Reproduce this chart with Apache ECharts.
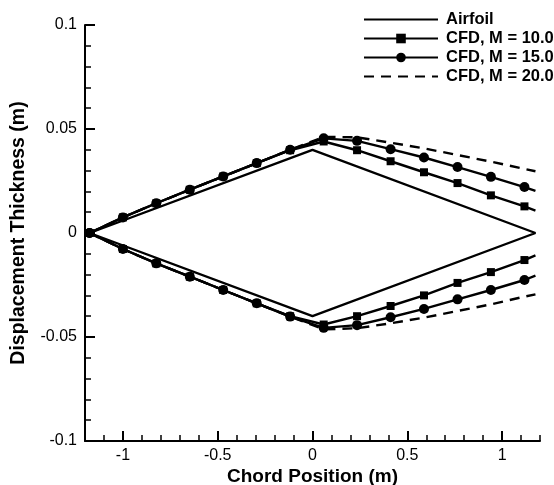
<!DOCTYPE html>
<html><head><meta charset="utf-8">
<script src="https://cdn.jsdelivr.net/npm/echarts@6/dist/echarts.min.js"></script>
<style>html,body{margin:0;padding:0;background:#fff}#c{width:554px;height:485px}</style>
</head><body><div id="c"></div>
<script>
// chord stations (last one is the trailing edge, drawn without marker)
const chordX = [-1.176, -1.0, -0.824, -0.647, -0.471, -0.294, -0.118, 0.059, 0.235, 0.412, 0.588, 0.765, 0.941, 1.118, 1.176];
const airfoilX = [-1.176, 0, 1.176, 0, -1.176];
const airfoilY = [0, 0.04, 0, -0.04, 0];
const m10Upper = [0, 0.0075, 0.0143, 0.0208, 0.0272, 0.0336, 0.0398, 0.0440, 0.0398, 0.0345, 0.0292, 0.0240, 0.0181, 0.0128, 0.0108];
const m10Lower = [0, -0.0077, -0.0146, -0.0210, -0.0274, -0.0338, -0.0400, -0.0440, -0.0400, -0.0351, -0.0300, -0.0240, -0.0188, -0.0130, -0.0108];
const m15Upper = [0, 0.0075, 0.0143, 0.0208, 0.0272, 0.0336, 0.0400, 0.0455, 0.0443, 0.0403, 0.0363, 0.0317, 0.0270, 0.0221, 0.0202];
const m15Lower = [0, -0.0077, -0.0146, -0.0210, -0.0274, -0.0338, -0.0402, -0.0456, -0.0443, -0.0405, -0.0365, -0.0319, -0.0274, -0.0226, -0.0205];
const m20Upper = [0, 0.0075, 0.0143, 0.0208, 0.0272, 0.0336, 0.0400, 0.0462, 0.0460, 0.0434, 0.0407, 0.0375, 0.0343, 0.0308, 0.0297];
const m20Lower = [0, -0.0077, -0.0146, -0.0210, -0.0274, -0.0338, -0.0402, -0.0463, -0.0458, -0.0434, -0.0407, -0.0375, -0.0343, -0.0306, -0.0295];
const seriesNames = ['Airfoil', 'CFD, M = 10.0', 'CFD, M = 15.0', 'CFD, M = 20.0'];
const xMajorTicks = [-1, -0.5, 0, 0.5, 1];
const xMinorTicks = [-1.2, -1.1, -1.0, -0.9, -0.8, -0.7, -0.6, -0.5, -0.4, -0.3, -0.2, -0.1, 0, 0.1, 0.2, 0.3, 0.4, 0.5, 0.6, 0.7, 0.8, 0.9, 1.0, 1.1, 1.2];
const yMajorTicks = [-0.1, -0.05, 0, 0.05, 0.1];
const yMinorTicks = [-0.1, -0.09, -0.08, -0.07, -0.06, -0.05, -0.04, -0.03, -0.02, -0.01, 0, 0.01, 0.02, 0.03, 0.04, 0.05, 0.06, 0.07, 0.08, 0.09, 0.1];

const FONT = '"Liberation Sans", Arial, Helvetica, sans-serif';
const BLACK = '#000';
const LW = 2.4;

function pts(xs, ys, markLast) {
  return xs.map((x, i) => {
    const item = { value: [x, ys[i]] };
    if (markLast && i === xs.length - 1) item.symbol = 'none';
    return item;
  });
}

function cfd(name, ys, symbol, size, dashed) {
  return {
    name: name, type: 'line', data: pts(chordX, ys, true),
    symbol: symbol, symbolSize: size, showAllSymbol: true,
    lineStyle: { color: BLACK, width: LW, type: dashed ? [10, 7] : 'solid' },
    itemStyle: { color: BLACK },
    silent: true, animation: false, z: 3
  };
}

const chart = echarts.init(document.getElementById('c'), null, { renderer: 'canvas' });

const axisCommon = {
  type: 'value', axisLine: { show: false, onZero: false }, splitLine: { show: false },
  axisLabel: { show: false }
};

chart.setOption({
  backgroundColor: '#fff',
  animation: false,
  grid: { left: 85, right: 14, top: 25, bottom: 44, containLabel: false, outerBoundsMode: 'none' },
  legend: {
    left: 358, top: 6, orient: 'vertical', itemWidth: 74, itemHeight: 12, itemGap: 2,
    textStyle: { fontFamily: FONT, fontSize: 16.5, fontWeight: 'bold', color: BLACK, padding: [0, 0, 0, 3] },
    selectedMode: false,
    data: [
      { name: seriesNames[0], itemStyle: { opacity: 0 } },
      { name: seriesNames[1] },
      { name: seriesNames[2] },
      { name: seriesNames[3], itemStyle: { opacity: 0 } }
    ]
  },
  xAxis: [
    {
      type: 'value', min: -1.2, max: 1.2, position: 'bottom',
      axisLine: { show: true, onZero: false, lineStyle: { color: BLACK, width: 2 } },
      axisTick: { show: true, inside: true, length: 10, customValues: xMajorTicks, lineStyle: { color: BLACK, width: 2 } },
      axisLabel: { customValues: xMajorTicks, color: BLACK, fontSize: 16, fontFamily: FONT, margin: 7 },
      splitLine: { show: false },
      name: 'Chord Position (m)', nameLocation: 'middle', nameGap: 26, nameMoveOverlap: false,
      nameTextStyle: { fontFamily: FONT, fontSize: 19, fontWeight: 'bold', color: BLACK }
    },
    Object.assign({}, axisCommon, {
      min: -1.2, max: 1.2, position: 'bottom',
      axisTick: { show: true, inside: true, length: 6, customValues: xMinorTicks, lineStyle: { color: BLACK, width: 1.5 } }
    })
  ],
  yAxis: [
    {
      type: 'value', min: -0.1, max: 0.1, position: 'left',
      axisLine: { show: true, onZero: false, lineStyle: { color: BLACK, width: 2 } },
      axisTick: { show: true, inside: true, length: 10, customValues: yMajorTicks, lineStyle: { color: BLACK, width: 2 } },
      axisLabel: { customValues: yMajorTicks, color: BLACK, fontSize: 16, fontFamily: FONT, margin: 8 },
      splitLine: { show: false },
      name: 'Displacement Thickness (m)', nameLocation: 'middle', nameGap: 56, nameRotate: 90, nameMoveOverlap: false,
      nameTextStyle: { fontFamily: FONT, fontSize: 19.5, fontWeight: 'bold', color: BLACK }
    },
    Object.assign({}, axisCommon, {
      min: -0.1, max: 0.1, position: 'left',
      axisTick: { show: true, inside: true, length: 6, customValues: yMinorTicks, lineStyle: { color: BLACK, width: 1.5 } }
    })
  ],
  series: [
    {
      name: seriesNames[0], type: 'line', data: pts(airfoilX, airfoilY, false),
      symbol: 'none', lineStyle: { color: BLACK, width: LW }, itemStyle: { color: BLACK }, silent: true, z: 2
    },
    cfd(seriesNames[1], m10Upper, 'rect', 8, false),
    cfd(seriesNames[1], m10Lower, 'rect', 8, false),
    cfd(seriesNames[2], m15Upper, 'circle', 10, false),
    cfd(seriesNames[2], m15Lower, 'circle', 10, false),
    cfd(seriesNames[3], m20Upper, 'none', 0, true),
    cfd(seriesNames[3], m20Lower, 'none', 0, true)
  ]
});
</script>
</body></html>
